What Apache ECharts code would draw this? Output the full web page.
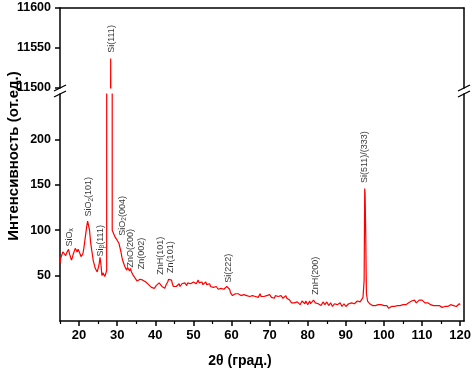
<!DOCTYPE html>
<html><head><meta charset="utf-8">
<script src="https://cdn.jsdelivr.net/npm/echarts@6/dist/echarts.min.js"></script>
<style>html,body{margin:0;padding:0;background:#fff}#c{width:476px;height:372px}</style>
</head><body><div id="c"></div>
<script>
// 2θ positions (deg) and intensity (arb. units)
var twoTheta = [
 15,15.25,15.5,15.75,16,16.25,16.5,16.75,17,17.25,17.5,17.75,18,18.25,18.5,18.75,19,19.25,19.5,19.75,
 20,20.25,20.5,20.75,21,21.25,21.5,21.75,22,22.25,22.5,22.75,23,23.25,23.5,23.75,24,24.25,24.5,24.75,
 25,25.25,25.5,25.75,26,26.25,26.5,26.75,27,27.25,
 27.3,27.32,28.27,28.3,28.33,28.68,28.7,
 29,29.25,29.5,29.75,30,30.25,30.5,30.75,31,31.25,31.5,31.75,32,32.25,32.5,32.75,33,33.25,33.5,33.75,
 34,34.25,34.5,34.75,35,35.25,35.5,35.75,36,36.25,36.5,36.75,37,37.25,37.5,37.75,38,38.25,38.5,38.75,
 39,39.25,39.5,39.75,40,40.25,40.5,40.75,41,41.25,41.5,41.75,42,42.25,42.5,42.75,43,43.25,43.5,43.75,
 44,44.25,44.5,44.75,45,45.25,45.5,45.75,46,46.25,46.5,46.75,47,47.25,47.5,47.75,48,48.25,48.5,48.75,
 49,49.25,49.5,49.75,50,50.25,50.5,50.75,51,51.25,51.5,51.75,52,52.25,52.5,52.75,53,53.25,53.5,53.75,
 54,54.25,54.5,54.75,55,55.25,55.5,55.75,56,56.25,56.5,56.75,57,57.25,57.5,57.75,58,58.25,58.5,58.75,
 59,59.25,59.5,59.75,60,60.25,60.5,60.75,61,61.25,61.5,61.75,62,62.25,62.5,62.75,63,63.25,63.5,63.75,
 64,64.25,64.5,64.75,65,65.25,65.5,65.75,66,66.25,66.5,66.75,67,67.25,67.5,67.75,68,68.25,68.5,68.75,
 69,69.25,69.5,69.75,70,70.25,70.5,70.75,71,71.25,71.5,71.75,72,72.25,72.5,72.75,73,73.25,73.5,73.75,
 74,74.25,74.5,74.75,75,75.25,75.5,75.75,76,76.25,76.5,76.75,77,77.25,77.5,77.75,78,78.25,78.5,78.75,
 79,79.25,79.5,79.75,80,80.25,80.5,80.75,81,81.25,81.5,81.75,82,82.25,82.5,82.75,83,83.25,83.5,83.75,
 84,84.25,84.5,84.75,85,85.25,85.5,85.75,86,86.25,86.5,86.75,87,87.25,87.5,87.75,88,88.25,88.5,88.75,
 89,89.25,89.5,89.75,90,90.25,90.5,90.75,91,91.25,91.5,91.75,92,92.25,92.5,92.75,93,93.25,93.5,93.75,
 94,94.25,94.5,
 94.8,94.95,95.05,95.2,95.4,95.7,
 96,96.25,96.5,96.75,97,97.25,97.5,97.75,98,98.25,98.5,98.75,99,99.25,99.5,99.75,
 100,100.25,100.5,100.75,101,101.25,101.5,101.75,102,102.25,102.5,102.75,103,103.25,103.5,103.75,
 104,104.25,104.5,104.75,105,105.25,105.5,105.75,106,106.25,106.5,106.75,107,107.25,107.5,107.75,
 108,108.25,108.5,108.75,109,109.25,109.5,109.75,110,110.25,110.5,110.75,111,111.25,111.5,111.75,
 112,112.25,112.5,112.75,113,113.25,113.5,113.75,114,114.25,114.5,114.75,115,115.25,115.5,115.75,
 116,116.25,116.5,116.75,117,117.25,117.5,117.75,118,118.25,118.5,118.75,119,119.25,119.5,119.75,
 120];
var intensity = [
 64,70,73,76,74,77,72,75,77,79,74,76,67,70,74,77,80,78,76,79,
 78,74,71,73,74,80,88,96,104,110,108,100,88,80,73,66,62,58,56,54,
 58,62,70,62,50,53,54,49,52,56,
 56,11000,11490,11537,11490,11000,100,
 97,95,92,93,89,88,85,83,76,70,66,63,60,58,56,59,61,55,58,54,
 52,50,49,47,45,44,42,44,46,48,46,45,44,45,43,41,42,40,39,38,
 37,39,37,36,37,39,41,40,42,40,41,38,37,38,36,39,41,43,46,47,
 48,45,41,38,37,39,38,40,39,41,38,40,41,39,40,42,41,39,42,40,
 43,41,42,40,43,42,44,41,43,45,42,44,42,43,40,42,41,43,40,41,
 39,41,38,40,39,37,38,36,38,36,35,37,35,36,34,36,35,33,36,38,
 37,39,35,31,29,28,30,28,30,31,28,30,29,31,28,30,28,29,27,30,
 28,30,28,27,29,27,28,26,28,27,29,27,26,28,30,27,28,26,27,29,
 27,28,26,28,29,27,26,28,27,25,28,27,29,27,28,26,28,27,25,27,
 26,28,25,24,25,23,22,20,19,21,20,18,19,21,19,20,18,20,22,20,
 21,19,22,20,18,20,22,19,18,21,23,21,20,22,21,19,18,20,17,19,
 21,19,18,20,21,19,17,19,20,18,16,18,19,21,20,18,19,17,20,18,
 16,18,19,17,16,18,17,19,20,18,20,19,21,19,21,20,22,20,22,21,
 23,22,26,
 45,146,140,100,30,22,
 20,19,18,19,17,19,18,17,18,16,18,17,16,18,17,16,
 17,15,16,17,15,14,16,15,16,15,17,16,18,16,17,19,
 18,17,19,17,18,17,19,18,19,18,20,19,20,22,21,22,
 23,21,20,22,21,23,22,21,23,22,21,20,21,19,20,18,
 19,18,20,18,17,19,18,17,18,16,17,16,17,15,16,14,
 16,15,17,16,15,17,18,16,19,17,18,17,16,18,17,19,
 18];

var xTickLabels = [20,30,40,50,60,70,80,90,100,110,120];
var xMinorTicks = [15,25,35,45,55,65,75,85,95,105,115];
var yLowTicks = [50,100,150,200];

// peak annotations: text, 2θ of label, intensity at the label's lower end
var peakText = ['SiO{s|x}','SiO{s|2}(101)','Si{s|β}(111)','SiO{s|2}(004)','ZnO(200)','Zn(002)','ZnH(101)','Zn(101)','Si(222)','ZnH(200)','Si(511)/(333)'];
var peakX    = [17.4, 22.4, 25.5, 31.3, 33.4, 36.5, 41.3, 44.1, 59.2, 82.1, 95.0];
var peakY    = [82, 115, 71, 94, 59, 57, 51, 53, 42, 29, 152];
var topPeakText = ['Si(111)'];
var topPeakX = [28.6];
var topPeakY = [11544];

var pts = twoTheta.map(function(t,i){return [t,intensity[i]];});
var FONT = 'Liberation Sans, Arial, sans-serif';
var axLine = {show:true, onZero:false, lineStyle:{color:'#000', width:1.5}};
function annoData(tx, xs, ys){ return tx.map(function(t,i){return {value:[xs[i],ys[i]], name:t};}); }
var annoLabel = {show:true, position:[0,0], rotate:90, align:'left', verticalAlign:'middle',
  formatter:function(p){return p.name;}, color:'#000', fontFamily:FONT, fontSize:9,
  rich:{s:{fontSize:6.5, fontFamily:FONT, color:'#000', padding:[5,0,0,0]}}};
var plainNum = function(v){ return String(v); };

var chart = echarts.init(document.getElementById('c'), null, {renderer:'canvas'});
chart.setOption({
  animation:false,
  backgroundColor:'#fff',
  grid:[
    {left:60, right:12, top:8, height:80, outerBoundsMode:'none'},
    {left:60, right:12, top:94, height:227, outerBoundsMode:'none'}
  ],
  xAxis:[
    {gridIndex:0, type:'value', min:15, max:121, position:'top', axisLine:axLine, axisTick:{show:false}, axisLabel:{show:false}, splitLine:{show:false}},
    {gridIndex:1, type:'value', min:15, max:121, position:'bottom', axisLine:axLine,
      axisTick:{show:true, length:5, customValues:xTickLabels, lineStyle:{color:'#000', width:1.5}},
      axisLabel:{show:true, customValues:xTickLabels, margin:8, color:'#000', fontFamily:FONT, fontWeight:'bold', fontSize:13, formatter:plainNum},
      splitLine:{show:false}},
    {gridIndex:1, type:'value', min:15, max:121, position:'bottom', axisLine:{show:false},
      axisTick:{show:true, length:3, customValues:xMinorTicks, lineStyle:{color:'#000', width:1.2}},
      axisLabel:{show:false}, splitLine:{show:false}}
  ],
  yAxis:[
    {gridIndex:0, type:'value', min:11500, max:11600, interval:50, position:'left', axisLine:axLine,
      axisTick:{show:true, length:5, lineStyle:{color:'#000', width:1.5}},
      axisLabel:{margin:9, color:'#000', fontFamily:FONT, fontWeight:'bold', fontSize:12.5, formatter:plainNum}, splitLine:{show:false}},
    {gridIndex:0, type:'value', min:11500, max:11600, position:'right', axisLine:axLine, axisTick:{show:false}, axisLabel:{show:false}, splitLine:{show:false}},
    {gridIndex:1, type:'value', min:0, max:250, position:'left', axisLine:axLine,
      axisTick:{show:true, length:5, customValues:yLowTicks, lineStyle:{color:'#000', width:1.5}},
      axisLabel:{customValues:yLowTicks, margin:9, color:'#000', fontFamily:FONT, fontWeight:'bold', fontSize:12.5, formatter:plainNum}, splitLine:{show:false}},
    {gridIndex:1, type:'value', min:0, max:250, position:'right', axisLine:axLine, axisTick:{show:false}, axisLabel:{show:false}, splitLine:{show:false}}
  ],
  series:[
    {type:'line', xAxisIndex:0, yAxisIndex:0, data:pts, showSymbol:false, clip:true, lineStyle:{color:'#f00', width:1.2}, silent:true},
    {type:'line', xAxisIndex:1, yAxisIndex:2, data:pts, showSymbol:false, clip:true, lineStyle:{color:'#f00', width:1.2}, silent:true},
    {type:'scatter', xAxisIndex:1, yAxisIndex:2, symbolSize:0, data:annoData(peakText,peakX,peakY), label:annoLabel, silent:true, z:5},
    {type:'scatter', xAxisIndex:0, yAxisIndex:0, symbolSize:0, data:annoData(topPeakText,topPeakX,topPeakY), label:annoLabel, silent:true, z:5}
  ],
  graphic:[
    {id:'ytitle', type:'text', x:14, y:156, rotation:Math.PI/2,
      style:{text:'Интенсивность (от.ед.)', font:'bold 15px '+FONT, fill:'#000', textAlign:'center', textVerticalAlign:'middle'}},
    {id:'xtitle', type:'text', x:240, y:361,
      style:{text:'2θ (град.)', font:'bold 14px '+FONT, fill:'#000', textAlign:'center', textVerticalAlign:'middle'}}
  ]
});

// axis-break marks where the two panels meet
var pA = chart.convertToPixel({gridIndex:0}, [15, 11500]);
var pB = chart.convertToPixel({gridIndex:1}, [15, 250]);
var qA = chart.convertToPixel({gridIndex:0}, [121, 11500]);
var marks = [];
[[pA[0],pA[1]],[pB[0],pB[1]],[qA[0],pA[1]],[qA[0],pB[1]]].forEach(function(p,i){
  marks.push({id:'brk'+i, type:'line', shape:{x1:p[0]-6, y1:p[1]+3, x2:p[0]+6, y2:p[1]-3}, style:{stroke:'#000', lineWidth:1.3}});
});
chart.setOption({graphic:marks});
</script></body></html>
